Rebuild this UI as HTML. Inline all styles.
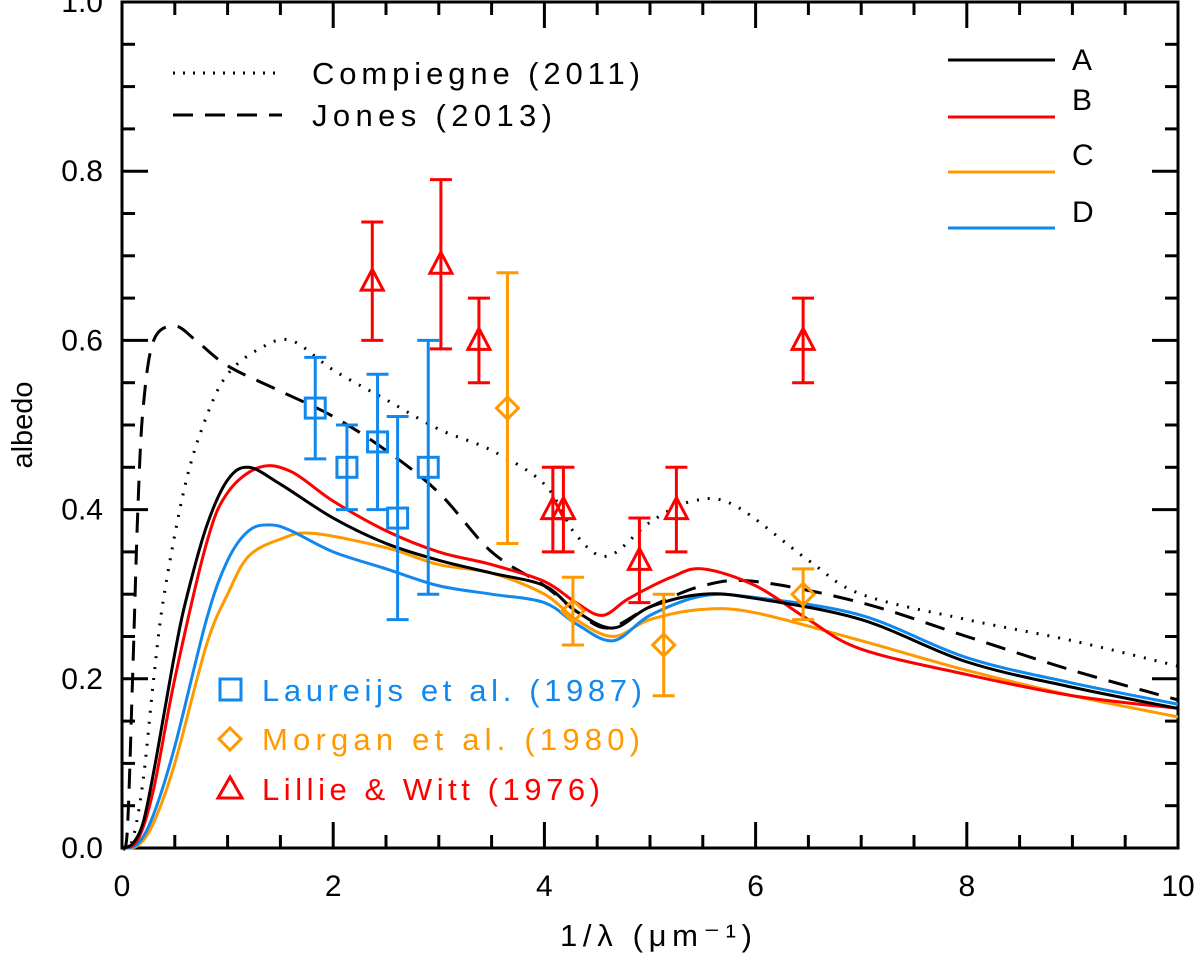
<!DOCTYPE html>
<html><head><meta charset="utf-8"><style>
body{margin:0;background:#fff}
svg text{font-family:"Liberation Sans","DejaVu Sans",sans-serif}
</style></head><body>
<svg id="chart" width="1200" height="955" viewBox="0 0 1200 955" xmlns="http://www.w3.org/2000/svg">
<g id="axes"></g>
<g id="curves"></g>
<g id="points"></g>
<g id="legend">
 <line x1="173" y1="73" x2="282" y2="73" stroke="#000" stroke-width="3" stroke-dasharray="2,8"/>
 <text x="312" y="84" font-size="31" textLength="328" lengthAdjust="spacing">Compiegne (2011)</text>
 <line x1="173" y1="115" x2="282" y2="115" stroke="#000" stroke-width="3" stroke-dasharray="20,12"/>
 <text x="312" y="126" font-size="31" textLength="240" lengthAdjust="spacing">Jones (2013)</text>
 <line x1="948" y1="60" x2="1055" y2="60" stroke="#000" stroke-width="3"/>
 <text x="1072" y="70" font-size="30">A</text>
 <line x1="948" y1="117" x2="1055" y2="117" stroke="#ff0000" stroke-width="3"/>
 <text x="1072" y="110" font-size="30">B</text>
 <line x1="948" y1="172" x2="1055" y2="172" stroke="#ff9900" stroke-width="3"/>
 <text x="1072" y="165" font-size="30">C</text>
 <line x1="948" y1="228" x2="1055" y2="228" stroke="#1188ee" stroke-width="3"/>
 <text x="1072" y="222" font-size="30">D</text>
 <rect x="220" y="679" width="21" height="21" fill="none" stroke="#1188ee" stroke-width="3"/>
 <text x="262" y="701" font-size="31" fill="#1188ee" textLength="380" lengthAdjust="spacing">Laureijs et al. (1987)</text>
 <polygon points="230,728 241,739 230,750 219,739" fill="none" stroke="#ff9900" stroke-width="3"/>
 <text x="262" y="750" font-size="31" fill="#ff9900" textLength="378" lengthAdjust="spacing">Morgan et al. (1980)</text>
 <polygon points="230,777 242,798 218,798" fill="none" stroke="#ff0000" stroke-width="3"/>
 <text x="262" y="800" font-size="31" fill="#ff0000" textLength="338" lengthAdjust="spacing">Lillie &amp; Witt (1976)</text>
</g>
<text x="560" y="946" font-size="31" textLength="192" lengthAdjust="spacing">1/λ (μm⁻¹)</text>
<text transform="translate(32,425) rotate(-90)" font-size="29" text-anchor="middle">albedo</text>
</svg>
<script>
const xTicks=[0,2,4,6,8,10];
const yTicks=[0.0,0.2,0.4,0.6,0.8,1.0];
const xTickLabels=["0","2","4","6","8","10"];
const yTickLabels=["0.0","0.2","0.4","0.6","0.8","1.0"];
const curveAx=[0,0.1,0.2,0.3,0.4,0.5,0.6,0.8,1.0,1.2,1.5,2.0,2.5,3.0,3.5,4.0,4.3,4.65,5.0,5.5,6.0,7,8,9,10];
const curveAy=[0,0.005,0.03,0.09,0.16,0.23,0.29,0.38,0.435,0.45,0.43,0.39,0.36,0.34,0.325,0.31,0.28,0.26,0.285,0.30,0.295,0.27,0.22,0.19,0.165];
const curveBx=[0,0.15,0.3,0.5,0.8,1.0,1.3,1.6,2.0,2.5,3.0,3.5,4.0,4.3,4.55,4.8,5.2,5.5,6.0,6.5,7,8,9,10];
const curveBy=[0,0.01,0.07,0.2,0.36,0.42,0.45,0.445,0.41,0.375,0.35,0.335,0.315,0.29,0.275,0.295,0.32,0.33,0.31,0.27,0.235,0.205,0.18,0.165];
const curveCx=[0,0.15,0.3,0.5,0.8,1.0,1.2,1.5,1.8,2.5,3.0,3.5,4.0,4.3,4.65,5.0,5.5,6.0,7,8,9,10];
const curveCy=[0,0.003,0.03,0.1,0.24,0.30,0.345,0.365,0.372,0.355,0.335,0.325,0.30,0.27,0.25,0.27,0.282,0.278,0.245,0.21,0.18,0.155];
const curveDx=[0,0.15,0.3,0.5,0.8,1.0,1.2,1.4,1.6,2.0,2.5,3.0,3.5,4.0,4.3,4.65,5.0,5.5,6.0,7,8,9,10];
const curveDy=[0,0.005,0.04,0.12,0.27,0.34,0.375,0.382,0.375,0.35,0.33,0.31,0.30,0.29,0.265,0.245,0.275,0.298,0.296,0.275,0.225,0.195,0.17];
const compX=[0,0.1,0.2,0.3,0.4,0.6,0.8,1.0,1.3,1.6,2.0,2.5,3.0,3.5,4.0,4.3,4.6,5.0,5.4,5.8,6.5,7,8,9,10];
const compY=[0,0.01,0.08,0.2,0.3,0.43,0.51,0.56,0.59,0.6,0.565,0.53,0.495,0.47,0.43,0.37,0.345,0.385,0.41,0.405,0.34,0.3,0.27,0.245,0.215];
const jonesX=[0,0.05,0.1,0.15,0.2,0.3,0.5,0.7,1.0,1.5,2.0,2.5,3.0,3.5,4.0,4.3,4.6,5.0,5.5,6.0,7,8,9,10];
const jonesY=[0,0.02,0.2,0.4,0.52,0.6,0.617,0.6,0.57,0.54,0.51,0.47,0.42,0.35,0.31,0.28,0.26,0.285,0.31,0.315,0.29,0.25,0.21,0.175];
const laurX=[1.83,2.13,2.42,2.61,2.9];
const laurY=[0.52,0.45,0.48,0.39,0.45];
const laurErr=[0.06,0.05,0.08,0.12,0.15];
const morgX=[3.65,4.27,5.13,6.45];
const morgY=[0.52,0.28,0.24,0.30];
const morgErr=[0.16,0.04,0.06,0.03];
const lilX=[2.37,3.02,3.38,4.08,4.18,4.9,5.25,6.45];
const lilY=[0.67,0.69,0.60,0.40,0.40,0.34,0.40,0.60];
const lilErr=[0.07,0.10,0.05,0.05,0.05,0.05,0.05,0.05];

const X0=122,X1=1178,Y0=848,Y1=2;
const sx=v=>X0+(X1-X0)*v/10;
const sy=v=>Y0-(Y0-Y1)*v;
const NS="http://www.w3.org/2000/svg";
function mk(tag,attrs,parent){const e=document.createElementNS(NS,tag);for(const k in attrs)e.setAttribute(k,attrs[k]);parent.appendChild(e);return e;}
const axes=document.getElementById('axes');
const frame=mk('rect',{x:X0,y:Y1,width:X1-X0,height:Y0-Y1,fill:'none',stroke:'#000','stroke-width':3},axes);


for(let v=0;v<=10.001;v+=0.5){
  const major=Math.abs(v-Math.round(v/2)*2)<1e-6, L=major?26:13;
  const t=mk('line',{x1:sx(v),x2:sx(v),y1:Y0,y2:Y0-L,stroke:'#000','stroke-width':3},axes);
  
  
  const t2=mk('line',{x1:sx(v),x2:sx(v),y1:Y1,y2:Y1+L,stroke:'#000','stroke-width':3},axes);
  
  
}
for(let v=0;v<=1.0001;v+=0.05){
  const major=Math.abs(v*5-Math.round(v*5))<1e-6, L=major?26:13;
  const t=mk('line',{x1:X0,x2:X0+L,y1:sy(v),y2:sy(v),stroke:'#000','stroke-width':3},axes);
  
  
  const t2=mk('line',{x1:X1,x2:X1-L,y1:sy(v),y2:sy(v),stroke:'#000','stroke-width':3},axes);
  
  
}
xTicks.forEach((v,i)=>{const t=mk('text',{x:sx(v),y:896,'font-size':30,'text-anchor':'middle'},axes);t.textContent=xTickLabels[i];
  
  });
yTicks.forEach((v,i)=>{const t=mk('text',{x:103,y:sy(v)+10,'font-size':30,'text-anchor':'end'},axes);t.textContent=yTickLabels[i];
  
  });

function smooth(xs,ys){
  const p=xs.map((x,i)=>[sx(x),sy(ys[i])]);
  let d='M'+p[0][0]+','+p[0][1];
  for(let i=0;i<p.length-1;i++){
    const p0=p[Math.max(0,i-1)],p1=p[i],p2=p[i+1],p3=p[Math.min(p.length-1,i+2)];
    const c1=[p1[0]+(p2[0]-p0[0])/6,p1[1]+(p2[1]-p0[1])/6];
    const c2=[p2[0]-(p3[0]-p1[0])/6,p2[1]-(p3[1]-p1[1])/6];
    d+=` C${c1[0]},${c1[1]} ${c2[0]},${c2[1]} ${p2[0]},${p2[1]}`;
  }
  return d;
}
const cg=document.getElementById('curves');
const defs=[[compX,compY,'#000','2,9','curve-compiegne'],[jonesX,jonesY,'#000','20,12','curve-jones'],
 [curveCx,curveCy,'#ff9900','','curve-c'],[curveDx,curveDy,'#1188ee','','curve-d'],
 [curveBx,curveBy,'#ff0000','','curve-b'],[curveAx,curveAy,'#000','','curve-a']];
defs.forEach(([xs,ys,c,da,name])=>{
  const e=mk('path',{d:smooth(xs,ys),fill:'none',stroke:c,'stroke-width':3,'stroke-dasharray':da||'none'},cg);
  
  
});
const pg=document.getElementById('points');
function errbar(x,y,e,c){
  const g=mk('g',{stroke:c,'stroke-width':3,fill:'none'},pg);
  
  
  mk('line',{x1:sx(x),x2:sx(x),y1:sy(y-e),y2:sy(y+e)},g);
  mk('line',{x1:sx(x)-11,x2:sx(x)+11,y1:sy(y-e),y2:sy(y-e)},g);
  mk('line',{x1:sx(x)-11,x2:sx(x)+11,y1:sy(y+e),y2:sy(y+e)},g);
}
laurX.forEach((x,i)=>{errbar(x,laurY[i],laurErr[i],'#1188ee');
  const m=mk('rect',{x:sx(x)-10,y:sy(laurY[i])-10,width:20,height:20,fill:'none',stroke:'#1188ee','stroke-width':3},pg);
  
  });
morgX.forEach((x,i)=>{errbar(x,morgY[i],morgErr[i],'#ff9900');
  const X=sx(x),Y=sy(morgY[i]);
  const m=mk('polygon',{points:`${X},${Y-11} ${X+11},${Y} ${X},${Y+11} ${X-11},${Y}`,fill:'none',stroke:'#ff9900','stroke-width':3},pg);
  
  });
lilX.forEach((x,i)=>{errbar(x,lilY[i],lilErr[i],'#ff0000');
  const X=sx(x),Y=sy(lilY[i]);
  const m=mk('polygon',{points:`${X},${Y-12} ${X+11},${Y+9} ${X-11},${Y+9}`,fill:'none',stroke:'#ff0000','stroke-width':3},pg);
  
  });
</script>
</body></html>
